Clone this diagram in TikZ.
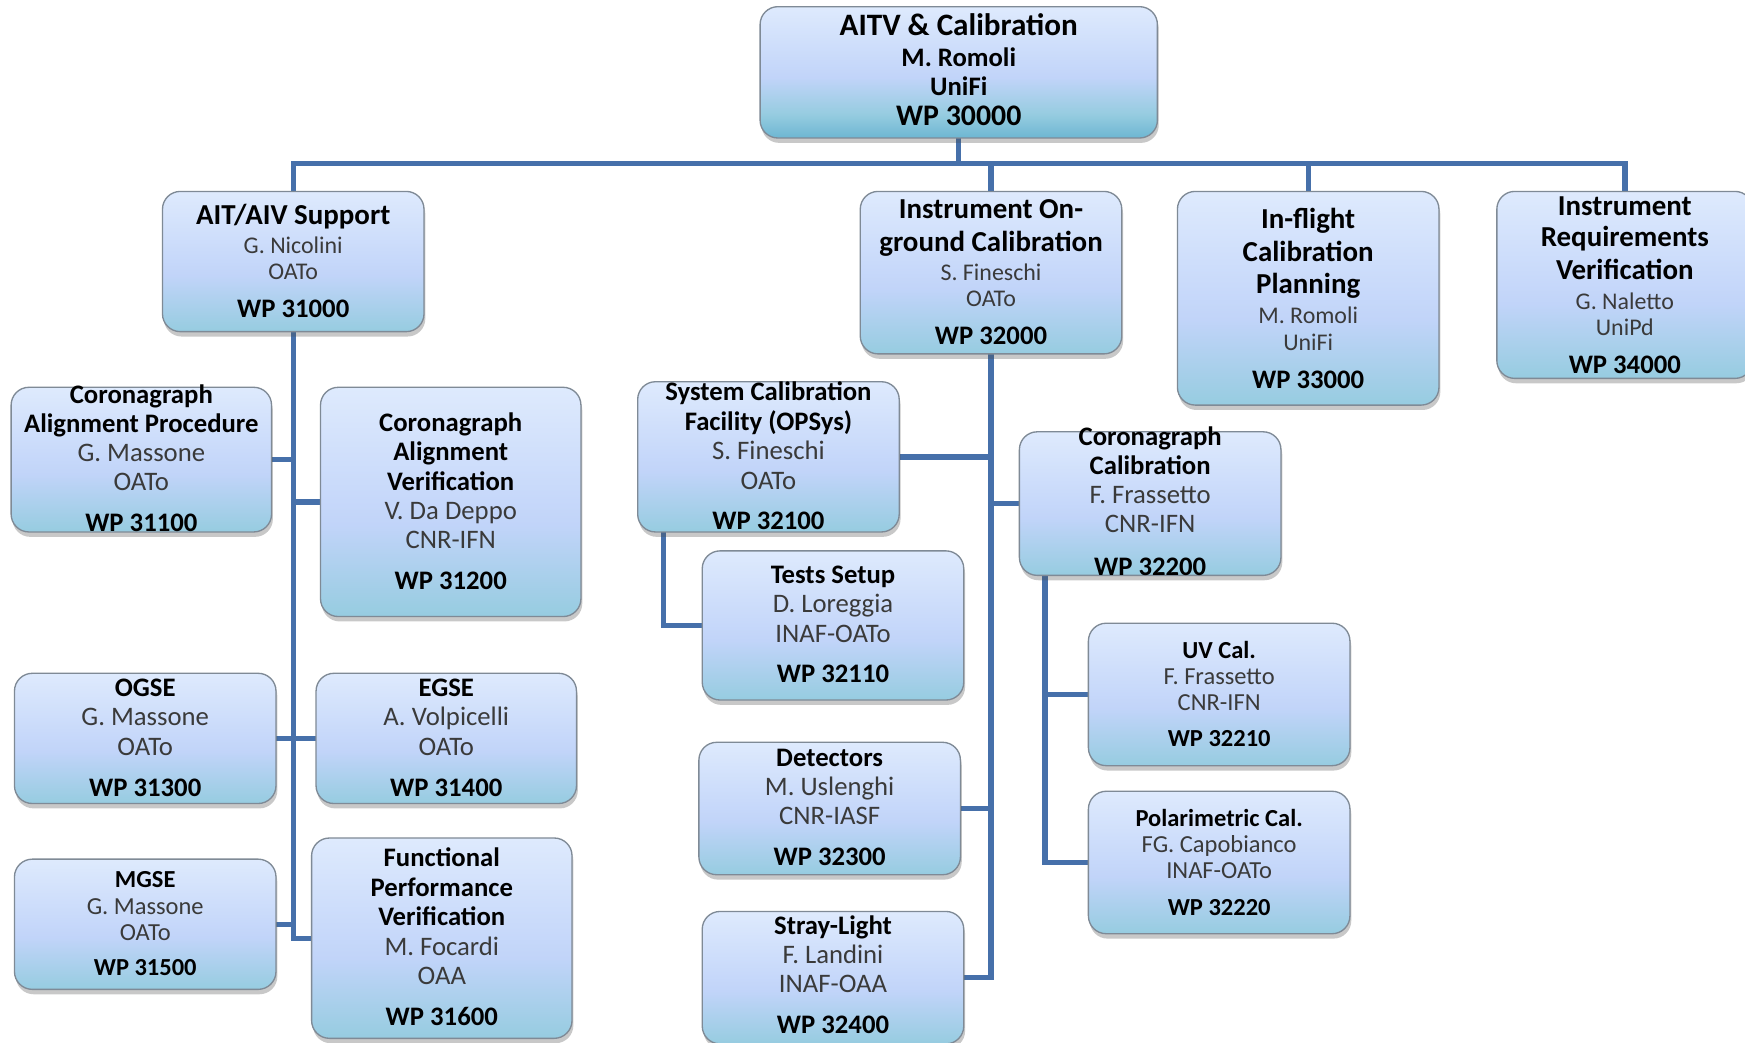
\documentclass[tikz,border=0pt]{standalone}
\usepackage{fontspec}
\setmainfont{Carlito}
\usetikzlibrary{shadows,backgrounds,calc}
\definecolor{btop}{HTML}{DEEAFD}
\definecolor{bmid}{HTML}{C1D4F9}
\definecolor{bbot}{HTML}{96CCE0}
\definecolor{tbot}{HTML}{6DB6D2}
\definecolor{lnc}{HTML}{4670AA}
\definecolor{nmc}{HTML}{3A3A3A}
\definecolor{bdr}{HTML}{7F8A96}
\pgfdeclareverticalshading{boxshade}{100bp}{color(0bp)=(bbot); color(25bp)=(bbot); color(45bp)=(bmid); color(75bp)=(btop); color(100bp)=(btop)}
\pgfdeclareverticalshading{topshade}{100bp}{color(0bp)=(tbot); color(25bp)=(tbot); color(34bp)=(bbot); color(48bp)=(bmid); color(75bp)=(btop); color(100bp)=(btop)}
\tikzset{
  wbox/.style={rounded corners=8pt, draw=bdr, line width=0.6pt, shade, shading=boxshade,
    inner sep=0pt, outer sep=0pt,
    drop shadow={shadow xshift=0.6pt, shadow yshift=-2.2pt, opacity=0.3, fill=black!70}},
  topbox/.style={wbox, shading=topshade},
  conn/.style={draw=lnc, line width=2.4pt},
  tx/.style={inner sep=0pt, text height=0.62em, text depth=0pt, yshift=-1.25pt},
  B14/.style={tx, font=\bfseries\fontsize{14pt}{16pt}\selectfont},
  B135/.style={tx, font=\bfseries\fontsize{13.4pt}{15pt}\selectfont},
  B13/.style={tx, font=\bfseries\fontsize{13pt}{15pt}\selectfont},
  B12/.style={tx, font=\bfseries\fontsize{12pt}{14pt}\selectfont},
  B11/.style={tx, font=\bfseries\fontsize{11pt}{13pt}\selectfont},
  R12/.style={tx, text=nmc, font=\fontsize{12pt}{14pt}\selectfont},
  R11/.style={tx, text=nmc, font=\fontsize{11pt}{13pt}\selectfont},
  R105/.style={tx, text=nmc, font=\fontsize{10.75pt}{13pt}\selectfont},
}
\newcommand\BX[6][wbox]{\node[#1, minimum width={(#5-#3)*0.5pt}, minimum height={(#6-#4)*0.5pt}] (#2) at ({(#3+#5)/2},{(#4+#6)/2}) {};}
\newcommand\TL[5]{\node[#4] (#1#2) at (#1.center |- 0,#3) {#5};}
\begin{document}
\begin{tikzpicture}[x=0.5pt,y=-0.5pt]
\useasboundingbox (0,0) rectangle (1568,937);
% boxes
\BX[topbox]{n1}{683}{6}{1040}{124}
\BX{n2}{146}{172}{381}{298}
\BX{n3}{773}{172}{1008}{318}
\BX{n4}{1058}{172}{1293}{364}
\BX{n5}{1345}{172}{1575}{340}
\BX{n6}{10}{348}{244}{478}
\BX{n7}{288}{348}{522}{554}
\BX{n8}{13}{605}{248}{722}
\BX{n9}{284}{605}{518}{722}
\BX{n10}{13}{772}{248}{889}
\BX{n11}{280}{753}{514}{933}
\BX{n12}{573}{343}{808}{478}
\BX{n13}{631}{495}{866}{629}
\BX{n14}{628}{667}{863}{786}
\BX{n15}{631}{819}{866}{938}
\BX{n16}{916}{388}{1151}{517}
\BX{n17}{978}{560}{1213}{688}
\BX{n18}{978}{711}{1213}{839}
% connectors
\begin{scope}[on background layer]
\fill[white] (0,0) rectangle (1568,937);
\coordinate (bus) at (0,147);
\draw[conn] (n1.south) -- (n1.south |- bus);
\draw[conn] (n2.north) |- (n5.north |- bus) -- (n5.north);
\draw[conn] (n3.north) -- (n3.north |- bus);
\draw[conn] (n4.north) -- (n4.north |- bus);
\draw[conn] (n2.south) |- (n11.west);
\draw[conn] (n6.east) -- (n6.east -| n2.south);
\draw[conn] (n7.west) -- (n7.west -| n2.south);
\draw[conn] (n8.east) -- (n8.east -| n2.south);
\draw[conn] (n9.west) -- (n9.west -| n2.south);
\draw[conn] (n10.east) -- (n10.east -| n2.south);
\draw[conn] (n3.south) |- (n15.east);
\draw[conn] (n12.east) -- (n12.east -| n3.south);
\draw[conn] (n16.west) -- (n16.west -| n3.south);
\draw[conn] (n14.east) -- (n14.east -| n3.south);
\coordinate (c12) at ([xshift=11.5pt]n12.south west);
\draw[conn] (c12) |- (n13.west);
\coordinate (c16) at ([xshift=11.5pt]n16.south west);
\draw[conn] (c16) |- (n18.west);
\draw[conn] (c16 |- n17.west) -- (n17.west);
\end{scope}
% texts
\TL{n1}{a}{23}{B14}{AITV \& Calibration}
\TL{n1}{b}{51}{B12}{M. Romoli}
\TL{n1}{c}{77}{B12}{UniFi}
\TL{n1}{d}{104}{B135}{WP 30000}
\TL{n2}{a}{193}{B13}{AIT/AIV Support}
\TL{n2}{b}{219}{R105}{G. Nicolini}
\TL{n2}{c}{242}{R105}{OATo}
\TL{n2}{d}{277}{B12}{WP 31000}
\TL{n3}{a}{188}{B13}{Instrument On-}
\TL{n3}{b}{217}{B13}{ground Calibration}
\TL{n3}{c}{243}{R105}{S. Fineschi}
\TL{n3}{d}{267}{R105}{OATo}
\TL{n3}{e}{301}{B12}{WP 32000}
\TL{n4}{a}{197}{B13}{In-flight}
\TL{n4}{b}{226}{B13}{Calibration}
\TL{n4}{c}{255}{B13}{Planning}
\TL{n4}{d}{282}{R105}{M. Romoli}
\TL{n4}{e}{306}{R105}{UniFi}
\TL{n4}{f}{340}{B12}{WP 33000}
\TL{n5}{a}{185}{B13}{Instrument}
\TL{n5}{b}{213}{B13}{Requirements}
\TL{n5}{c}{242}{B13}{Verification}
\TL{n5}{d}{269}{R105}{G. Naletto}
\TL{n5}{e}{293}{R105}{UniPd}
\TL{n5}{f}{327}{B12}{WP 34000}
\TL{n6}{a}{354}{B12}{Coronagraph}
\TL{n6}{b}{380}{B12}{Alignment Procedure}
\TL{n6}{c}{406}{R12}{G. Massone}
\TL{n6}{d}{432}{R12}{OATo}
\TL{n6}{e}{469}{B12}{WP 31100}
\TL{n7}{a}{379}{B12}{Coronagraph}
\TL{n7}{b}{405}{B12}{Alignment}
\TL{n7}{c}{432}{B12}{Verification}
\TL{n7}{d}{458}{R12}{V. Da Deppo}
\TL{n7}{e}{484}{R12}{CNR-IFN}
\TL{n7}{f}{521}{B12}{WP 31200}
\TL{n8}{a}{617}{B12}{OGSE}
\TL{n8}{b}{643}{R12}{G. Massone}
\TL{n8}{c}{670}{R12}{OATo}
\TL{n8}{d}{707}{B12}{WP 31300}
\TL{n9}{a}{617}{B12}{EGSE}
\TL{n9}{b}{643}{R12}{A. Volpicelli}
\TL{n9}{c}{670}{R12}{OATo}
\TL{n9}{d}{707}{B12}{WP 31400}
\TL{n10}{a}{789}{B11}{MGSE}
\TL{n10}{b}{813}{R11}{G. Massone}
\TL{n10}{c}{836}{R11}{OATo}
\TL{n10}{d}{868}{B11}{WP 31500}
\TL{n11}{a}{770}{B12}{Functional}
\TL{n11}{b}{797}{B12}{Performance}
\TL{n11}{c}{823}{B12}{Verification}
\TL{n11}{d}{850}{R12}{M. Focardi}
\TL{n11}{e}{876}{R12}{OAA}
\TL{n11}{f}{913}{B12}{WP 31600}
\TL{n12}{a}{351}{B12}{System Calibration}
\TL{n12}{b}{378}{B12}{Facility (OPSys)}
\TL{n12}{c}{404}{R12}{S. Fineschi}
\TL{n12}{d}{431}{R12}{OATo}
\TL{n12}{e}{467}{B12}{WP 32100}
\TL{n13}{a}{516}{B12}{Tests Setup}
\TL{n13}{b}{542}{R12}{D. Loreggia}
\TL{n13}{c}{569}{R12}{INAF-OATo}
\TL{n13}{d}{605}{B12}{WP 32110}
\TL{n14}{a}{680}{B12}{Detectors}
\TL{n14}{b}{706}{R12}{M. Uslenghi}
\TL{n14}{c}{732}{R12}{CNR-IASF}
\TL{n14}{d}{769}{B12}{WP 32300}
\TL{n15}{a}{831}{B12}{Stray-Light}
\TL{n15}{b}{857}{R12}{F. Landini}
\TL{n15}{c}{883}{R12}{INAF-OAA}
\TL{n15}{d}{920}{B12}{WP 32400}
\TL{n16}{a}{392}{B12}{Coronagraph}
\TL{n16}{b}{418}{B12}{Calibration}
\TL{n16}{c}{444}{R12}{F. Frassetto}
\TL{n16}{d}{470}{R12}{CNR-IFN}
\TL{n16}{e}{508}{B12}{WP 32200}
\TL{n17}{a}{583}{B11}{UV Cal.}
\TL{n17}{b}{606}{R11}{F. Frassetto}
\TL{n17}{c}{630}{R11}{CNR-IFN}
\TL{n17}{d}{662}{B11}{WP 32210}
\TL{n18}{a}{734}{B11}{Polarimetric Cal.}
\TL{n18}{b}{757}{R11}{FG. Capobianco}
\TL{n18}{c}{781}{R11}{INAF-OATo}
\TL{n18}{d}{814}{B11}{WP 32220}
\end{tikzpicture}
\end{document}
